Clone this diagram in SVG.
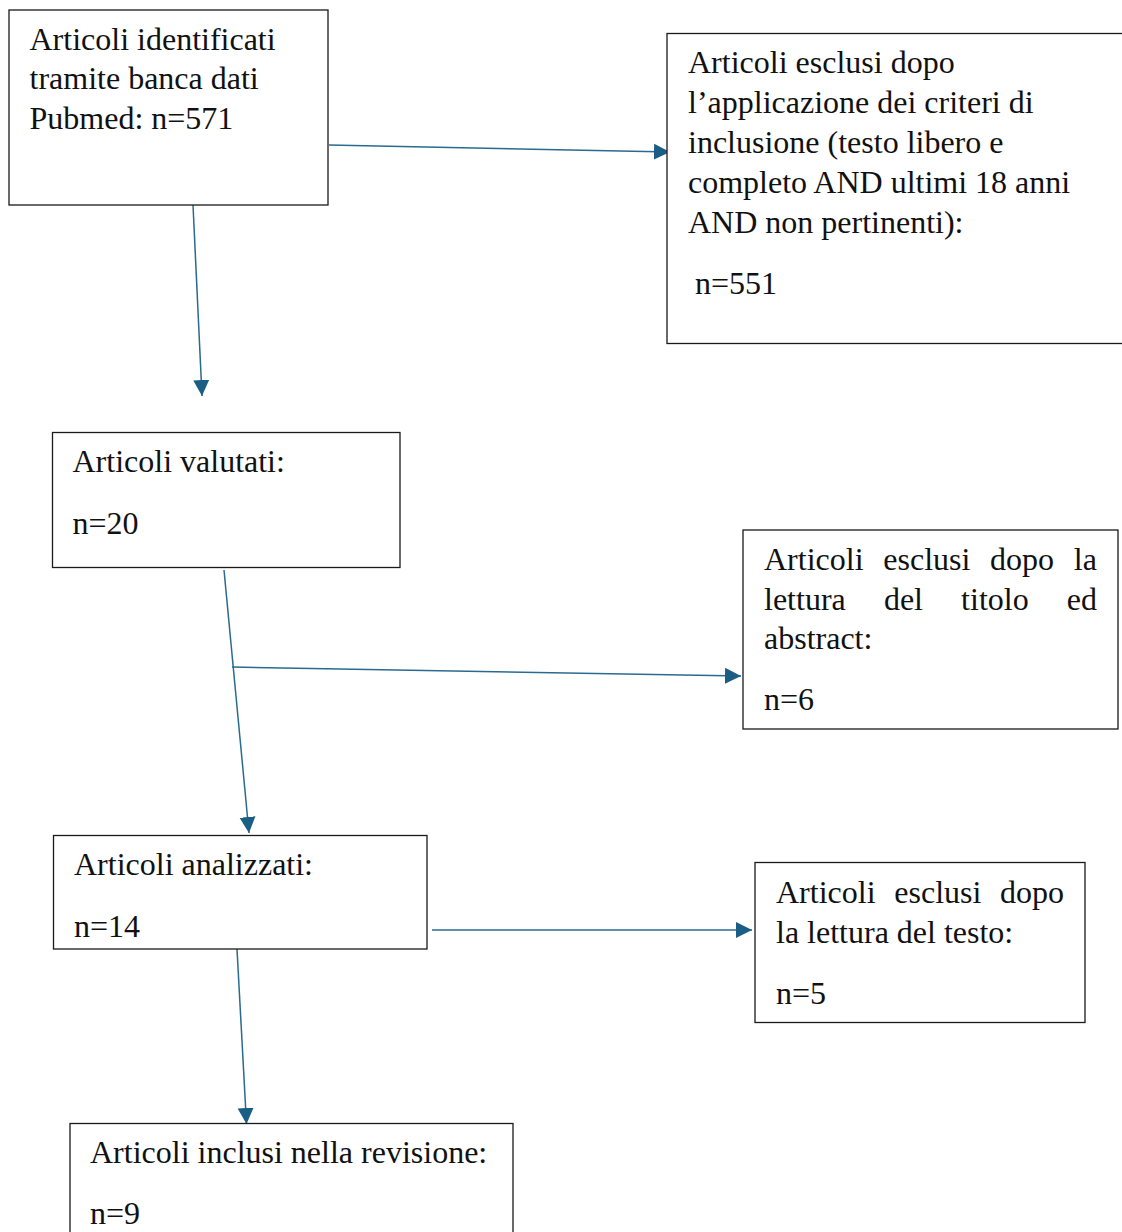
<svg xmlns="http://www.w3.org/2000/svg" width="1122" height="1232" viewBox="0 0 1122 1232">
<style>
.box{fill:#fff;stroke:#1a1a1a;stroke-width:1.3}
.t{font-family:"Liberation Serif","Times New Roman",serif;font-size:32px;fill:#111}
.c{fill:none;stroke:#2a6a8f;stroke-width:1.5}
</style>
<defs>
<marker id="ah" viewBox="0 0 10 10" markerUnits="userSpaceOnUse" markerWidth="16" markerHeight="17" refX="10" refY="5" orient="auto">
<path d="M0,0 L10,5 L0,10 Z" fill="#1b5e85"/>
</marker>
</defs>
<rect width="1122" height="1232" fill="#fff"/>
<g id="connectors">
<line class="c" x1="329" y1="145" x2="670" y2="152" marker-end="url(#ah)"/>
<line class="c" x1="193" y1="205" x2="202" y2="396" marker-end="url(#ah)"/>
<line class="c" x1="224" y1="570" x2="249" y2="833" marker-end="url(#ah)"/>
<line class="c" x1="232" y1="667" x2="741" y2="676" marker-end="url(#ah)"/>
<line class="c" x1="432" y1="930" x2="752" y2="930" marker-end="url(#ah)"/>
<line class="c" x1="237" y1="949" x2="246.5" y2="1124" marker-end="url(#ah)"/>
</g>
<g id="n1">
<rect class="box" x="9" y="10" width="319" height="195"/>
<text class="t" x="29.5" y="50">Articoli identificati</text>
<text class="t" x="29.5" y="89">tramite banca dati</text>
<text class="t" x="29.5" y="129">Pubmed: n=571</text>
</g>
<g id="n2">
<rect class="box" x="667" y="33.5" width="470" height="310"/>
<text class="t" x="688" y="73">Articoli esclusi dopo</text>
<text class="t" x="688" y="113">l’applicazione dei criteri di</text>
<text class="t" x="688" y="153">inclusione (testo libero e</text>
<text class="t" x="688" y="193">completo AND ultimi 18 anni</text>
<text class="t" x="688" y="233">AND non pertinenti):</text>
<text class="t" x="695" y="294">n=551</text>
</g>
<g id="n3">
<rect class="box" x="52.5" y="432.5" width="347.5" height="135"/>
<text class="t" x="72.5" y="472">Articoli valutati:</text>
<text class="t" x="72.5" y="534">n=20</text>
</g>
<g id="n4">
<rect class="box" x="743" y="530" width="375" height="199"/>
<text class="t" y="570"><tspan x="764">Articoli</tspan><tspan x="883.3">esclusi</tspan><tspan x="990.1">dopo</tspan><tspan x="1073.8">la</tspan></text>
<text class="t" y="610"><tspan x="764">lettura</tspan><tspan x="883.9">del</tspan><tspan x="961.1">titolo</tspan><tspan x="1066.8">ed</tspan></text>
<text class="t" x="764" y="649">abstract:</text>
<text class="t" x="764" y="710">n=6</text>
</g>
<g id="n5">
<rect class="box" x="53.5" y="835.5" width="373.5" height="113.5"/>
<text class="t" x="74" y="875">Articoli analizzati:</text>
<text class="t" x="74" y="937">n=14</text>
</g>
<g id="n6">
<rect class="box" x="755" y="862.5" width="330" height="160"/>
<text class="t" y="903"><tspan x="776">Articoli</tspan><tspan x="894.3">esclusi</tspan><tspan x="1000">dopo</tspan></text>
<text class="t" x="776" y="943">la lettura del testo:</text>
<text class="t" x="776" y="1004">n=5</text>
</g>
<g id="n7">
<rect class="box" x="70" y="1123.5" width="443" height="130"/>
<text class="t" x="90" y="1163">Articoli inclusi nella revisione:</text>
<text class="t" x="90" y="1224">n=9</text>
</g>
</svg>
